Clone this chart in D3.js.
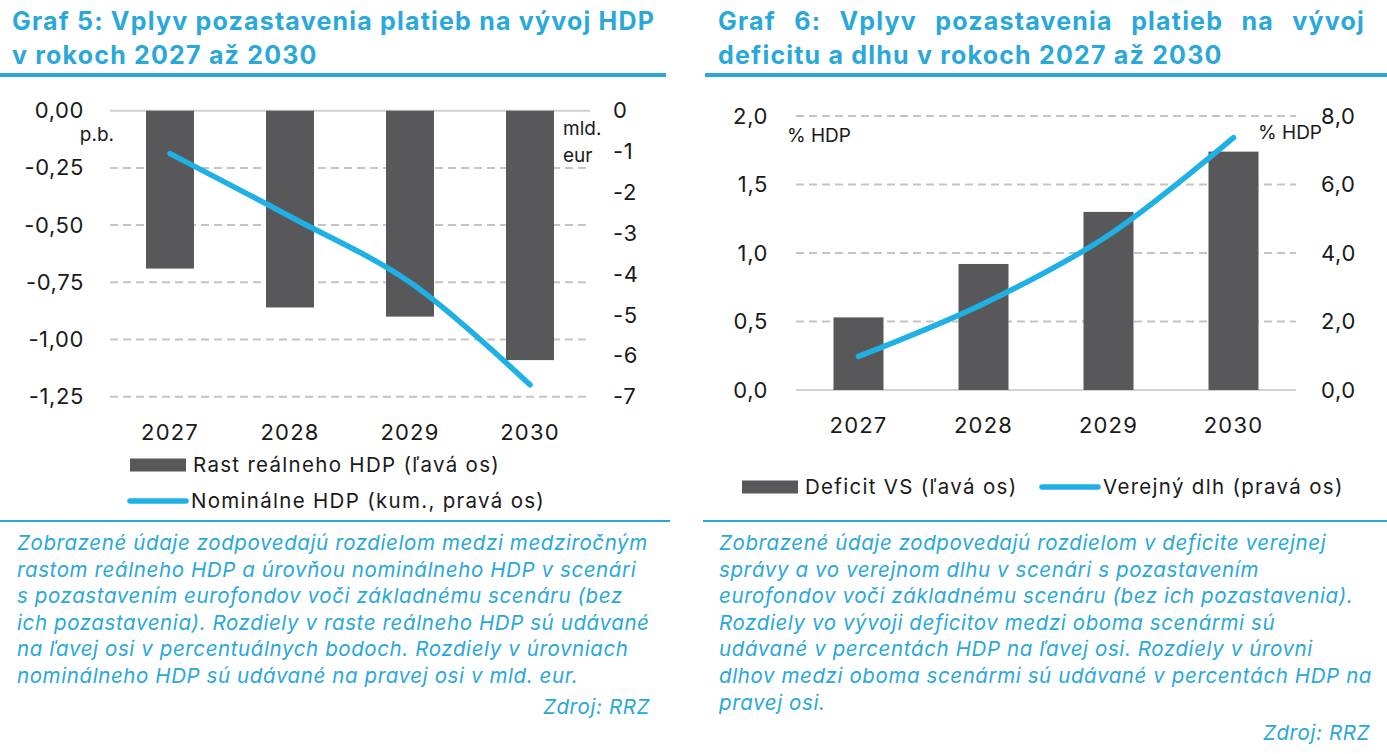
<!DOCTYPE html>
<html>
<head>
<meta charset="utf-8">
<script src="https://cdn.jsdelivr.net/npm/d3@7"></script>
<style>
  body { margin: 0; background: #fff; }
  svg { display: block; font-family: Inter, "Noto Sans", sans-serif; }
</style>
</head>
<body>
<svg id="viz" width="1387" height="754"></svg>
<script>
// Data
const years = ["2027", "2028", "2029", "2030"];

// Graf 5
const realGdp = [-0.69, -0.86, -0.90, -1.09];      // p.b., left axis
const nominalGdp = [-1.05, -2.59, -4.2, -6.71];    // mld. eur, right axis
const ticks5Left = [0, -0.25, -0.5, -0.75, -1.0, -1.25];
const ticks5Right = [0, -1, -2, -3, -4, -5, -6, -7];

// Graf 6
const deficit = [0.53, 0.92, 1.3, 1.74];           // % HDP, left axis
const debt = [0.98, 2.52, 4.52, 7.37];             // % HDP, right axis
const ticks6Left = [0, 0.5, 1.0, 1.5, 2.0];
const ticks6Right = [0, 2, 4, 6, 8];

const titles5 = ["Graf 5: Vplyv pozastavenia platieb na vývoj HDP", "v rokoch 2027 až 2030"];
const titles6 = ["Graf 6: Vplyv pozastavenia platieb na vývoj", "deficitu a dlhu v rokoch 2027 až 2030"];
const legend5 = ["Rast reálneho HDP (ľavá os)", "Nominálne HDP (kum., pravá os)"];
const legend6 = ["Deficit VS (ľavá os)", "Verejný dlh (pravá os)"];

const note5 = [
  "Zobrazené údaje zodpovedajú rozdielom medzi medziročným",
  "rastom reálneho HDP a úrovňou nominálneho HDP v scenári",
  "s pozastavením eurofondov voči základnému scenáru (bez",
  "ich pozastavenia). Rozdiely v raste reálneho HDP sú udávané",
  "na ľavej osi v percentuálnych bodoch. Rozdiely v úrovniach",
  "nominálneho HDP sú udávané na pravej osi v mld. eur."
];
const note6 = [
  "Zobrazené údaje zodpovedajú rozdielom v deficite verejnej",
  "správy a vo verejnom dlhu v scenári s pozastavením",
  "eurofondov voči základnému scenáru (bez ich pozastavenia).",
  "Rozdiely vo vývoji deficitov medzi oboma scenármi sú",
  "udávané v percentách HDP na ľavej osi. Rozdiely v úrovni",
  "dlhov medzi oboma scenármi sú udávané v percentách HDP na",
  "pravej osi."
];
const source = "Zdroj: RRZ";

const BLUE = "#2aa8da";
const LINE = "#1fb0e5";
const BAR = "#58585a";
const GRID = "#c4c4c4";
const TEXT = "#1a1a1a";

const svg = d3.select("#viz");

const comma = (d, n) => d.toFixed(n).replace(".", ",");

// Header: title lines + thick rule
function drawHeader(lines, x, x0, x1, justifyTo) {
  const g = svg.append("g");
  lines.forEach((t, i) => {
    const txt = g.append("text")
      .attr("x", x).attr("y", 30 + i * 34)
      .attr("fill", BLUE)
      .attr("font-size", 25)
      .attr("font-weight", 700)
      .attr("letter-spacing", 1.2)
      .text(t);
    if (justifyTo && i === 0) {
      const w = txt.node().getComputedTextLength();
      const spaces = t.split(" ").length - 1;
      txt.attr("word-spacing", (justifyTo - x - w) / spaces);
    }
  });
  g.append("rect").attr("x", x0).attr("y", 73).attr("width", x1 - x0).attr("height", 4).attr("fill", BLUE);
}

// Footnote: thin rule + italic lines + source
function drawNote(lines, x, x0, x1, srcRight, srcY) {
  const g = svg.append("g");
  g.append("rect").attr("x", x0).attr("y", 520).attr("width", x1 - x0).attr("height", 2).attr("fill", BLUE);
  lines.forEach((t, i) => {
    g.append("text")
      .attr("x", x).attr("y", 550 + i * 26.6)
      .attr("fill", BLUE)
      .attr("font-size", 20.5)
      .attr("font-style", "italic")
      .attr("letter-spacing", 0.6)
      .text(t);
  });
  g.append("text")
    .attr("x", srcRight).attr("y", srcY)
    .attr("text-anchor", "end")
    .attr("fill", BLUE)
    .attr("font-size", 20.5)
    .attr("font-style", "italic")
    .attr("letter-spacing", 0.6)
    .text(source);
}

// One combo chart (bars on left axis, line on right axis)
function drawChart(c) {
  const g = svg.append("g");
  const x = d3.scaleBand().domain(years).range(c.xRange).paddingInner(0.6).paddingOuter(0.3);
  const y = d3.scaleLinear().domain(c.yDomain).range(c.yRange);
  const y2 = d3.scaleLinear().domain(c.y2Domain).range(c.yRange);

  // gridlines
  g.append("g")
    .selectAll("line")
    .data(c.ticksLeft)
    .join("line")
    .attr("x1", c.xRange[0]).attr("x2", c.xRange[1])
    .attr("y1", d => y(d)).attr("y2", d => y(d))
    .attr("stroke", d => d === 0 ? "#d2d2d2" : GRID)
    .attr("stroke-width", 2)
    .attr("stroke-dasharray", d => d === 0 ? null : "8,5");

  // bars
  g.append("g")
    .selectAll("rect")
    .data(c.bars)
    .join("rect")
    .attr("x", (d, i) => x(years[i]))
    .attr("width", x.bandwidth())
    .attr("y", d => Math.min(y(d), y(0)))
    .attr("height", d => Math.abs(y(d) - y(0)))
    .attr("fill", BAR);

  // line
  const line = d3.line()
    .x((d, i) => x(years[i]) + x.bandwidth() / 2)
    .y(d => y2(d))
    .curve(d3.curveCatmullRom);
  g.append("path")
    .datum(c.line)
    .attr("d", line)
    .attr("fill", "none")
    .attr("stroke", LINE)
    .attr("stroke-width", 5.5)
    .attr("stroke-linecap", "round");

  // axes
  const yAxis = d3.axisLeft(y).tickValues(c.ticksLeft).tickSize(0).tickPadding(0)
    .tickFormat(d => comma(d, c.leftDigits));
  const ay = g.append("g").attr("transform", `translate(${c.leftLabelX},0)`).call(yAxis);
  const y2Axis = d3.axisRight(y2).tickValues(c.ticksRight).tickSize(0).tickPadding(0)
    .tickFormat(d => comma(d, c.rightDigits));
  const ay2 = g.append("g").attr("transform", `translate(${c.rightLabelX},0)`).call(y2Axis);
  const xAxis = d3.axisBottom(x).tickSize(0).tickPadding(0);
  const ax = g.append("g").attr("transform", `translate(0,${c.xLabelY})`).call(xAxis);
  [ay, ay2, ax].forEach(a => {
    a.select(".domain").remove();
    a.selectAll("text").attr("font-family", "Inter, sans-serif").attr("fill", TEXT)
      .attr("font-size", 22).attr("letter-spacing", 0.6);
  });
  ax.selectAll("text").attr("dy", "0.35em").attr("letter-spacing", 1.2);

  // unit labels
  c.units.forEach(u => {
    g.append("text")
      .attr("x", u.x).attr("y", u.y).attr("dy", "0.35em")
      .attr("text-anchor", u.anchor || "start")
      .attr("font-size", 19).attr("fill", TEXT)
      .text(u.t);
  });

  // legend
  c.legend.forEach((l, i) => {
    if (i === 0) {
      g.append("rect").attr("x", l.x).attr("y", l.y - 6.5).attr("width", 56).attr("height", 13).attr("fill", BAR);
    } else {
      g.append("line").attr("x1", l.x + 2).attr("x2", l.x + 58).attr("y1", l.y).attr("y2", l.y)
        .attr("stroke", LINE).attr("stroke-width", 5.5).attr("stroke-linecap", "round");
    }
    g.append("text")
      .attr("x", l.x + 63).attr("y", l.y).attr("dy", "0.35em")
      .attr("font-size", 20.5).attr("fill", TEXT).attr("letter-spacing", 1.3)
      .text(l.t);
  });
}

drawHeader(titles5, 12, 0, 666, null);
drawHeader(titles6, 718, 705, 1387, 1365);

drawChart({
  xRange: [110, 590],
  yDomain: [-1.25, 0], y2Domain: [-7, 0], yRange: [396.7, 110.7],
  bars: realGdp, line: nominalGdp,
  ticksLeft: ticks5Left, ticksRight: ticks5Right,
  leftDigits: 2, rightDigits: 0,
  leftLabelX: 84, rightLabelX: 613, xLabelY: 432,
  units: [
    { t: "p.b.", x: 114, y: 134, anchor: "end" },
    { t: "mld.", x: 563, y: 128 },
    { t: "eur", x: 563, y: 155 }
  ],
  legend: [
    { t: legend5[0], x: 130, y: 465 },
    { t: legend5[1], x: 128, y: 501 }
  ]
});

drawChart({
  xRange: [796, 1296],
  yDomain: [0, 2], y2Domain: [0, 8], yRange: [390, 116],
  bars: deficit, line: debt,
  ticksLeft: ticks6Left, ticksRight: ticks6Right,
  leftDigits: 1, rightDigits: 1,
  leftLabelX: 768, rightLabelX: 1321, xLabelY: 425,
  units: [
    { t: "% HDP", x: 787, y: 135 },
    { t: "% HDP", x: 1322, y: 132, anchor: "end" }
  ],
  legend: [
    { t: legend6[0], x: 742, y: 487 },
    { t: legend6[1], x: 1040, y: 487 }
  ]
});

drawNote(note5, 17, 0, 670, 650, 714);
drawNote(note6, 719, 703, 1387, 1370, 740);
</script>
</body>
</html>
